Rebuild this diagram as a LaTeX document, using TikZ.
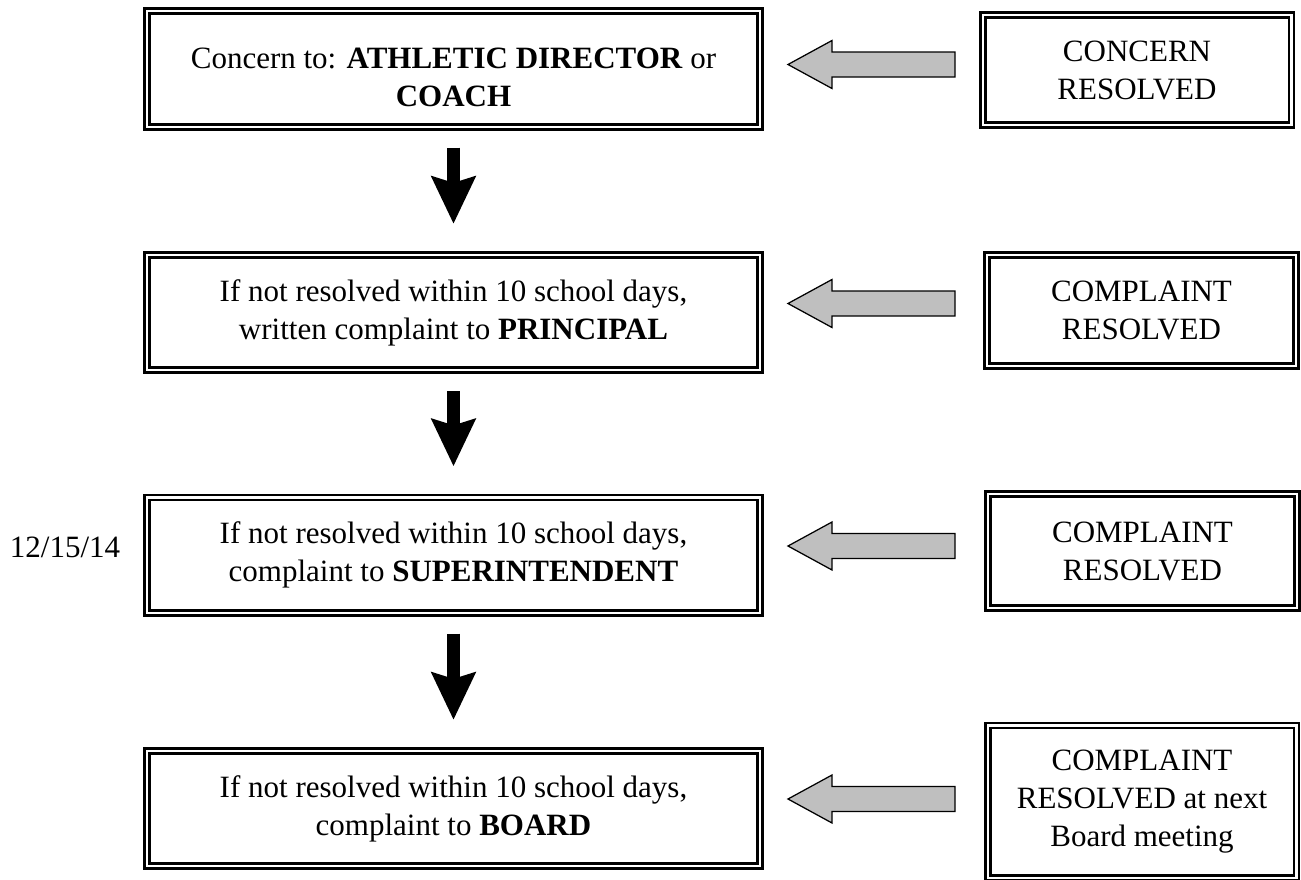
\documentclass[tikz,border=0pt]{standalone}
\usepackage{fontspec}
\setmainfont{Liberation Serif}
\usetikzlibrary{arrows.meta,positioning,calc}

\begin{document}
\begin{tikzpicture}[x=0.4pt,y=-0.4pt,
	box/.style={draw,line width=1.1pt,double,double distance=0.9pt,outer sep=0pt,inner sep=0pt,align=center,font=\fontsize{12.4}{15.2}\selectfont},
	step box/.style={box,minimum width=245.3pt,minimum height=46.1pt},
	end box/.style={box,minimum width=123.5pt},
	down arrow/.style={line width=5.2pt,-{Stealth[length=18.8pt,width=17.2pt,inset=2.4pt]},shorten <=8.4pt,shorten >=12.4pt},
	back arrow/.style={draw,line width=0.5pt,fill=gray!50}]

	\useasboundingbox (0,0) rectangle (1301,880);

	% steps of the complaint
	\node[step box] (ad) at (453.5,69) {\raisebox{-7.5pt}[0pt][0pt]{\begin{tabular}{@{}c@{}}Concern to: \textbf{ATHLETIC DIRECTOR} or\\\textbf{COACH}\end{tabular}}};
	\node[step box] (prin) at (453.5,312.5) {If not resolved within 10 school days,\\written complaint to \textbf{PRINCIPAL}};
	\node[step box] (supt) at (453.5,555) {If not resolved within 10 school days,\\complaint to \textbf{SUPERINTENDENT}};
	\node[step box] (board) at (453.5,808.5) {If not resolved within 10 school days,\\complaint to \textbf{BOARD}};

	% outcomes
	\node[end box,minimum height=44.1pt] (r1) at (1137,70) {CONCERN\\RESOLVED};
	\node[end box,minimum height=44.5pt] (r2) at (1141.5,310.5) {COMPLAINT\\RESOLVED};
	\node[end box,minimum height=45.7pt] (r3) at (1142.5,551) {COMPLAINT\\RESOLVED};
	\node[end box,minimum height=60.9pt] (r4) at (1142,801.5) {COMPLAINT\\RESOLVED at next\\Board meeting};

	\node[font=\fontsize{12.4}{15.2}\selectfont] (date) at (65,547) {12/15/14};

	\draw[down arrow] (ad) -- (prin);
	\draw[down arrow] (prin) -- (supt);
	\draw[down arrow] (supt) -- (board);

	\foreach \yy in {64.5,303.5,546,799}
		\draw[back arrow,shift={(0,\yy)}] (788,0) -- (832,-24) -- (832,-12.5) -- (955,-12.5) -- (955,12.5) -- (832,12.5) -- (832,24) -- cycle;
\end{tikzpicture}
\end{document}
